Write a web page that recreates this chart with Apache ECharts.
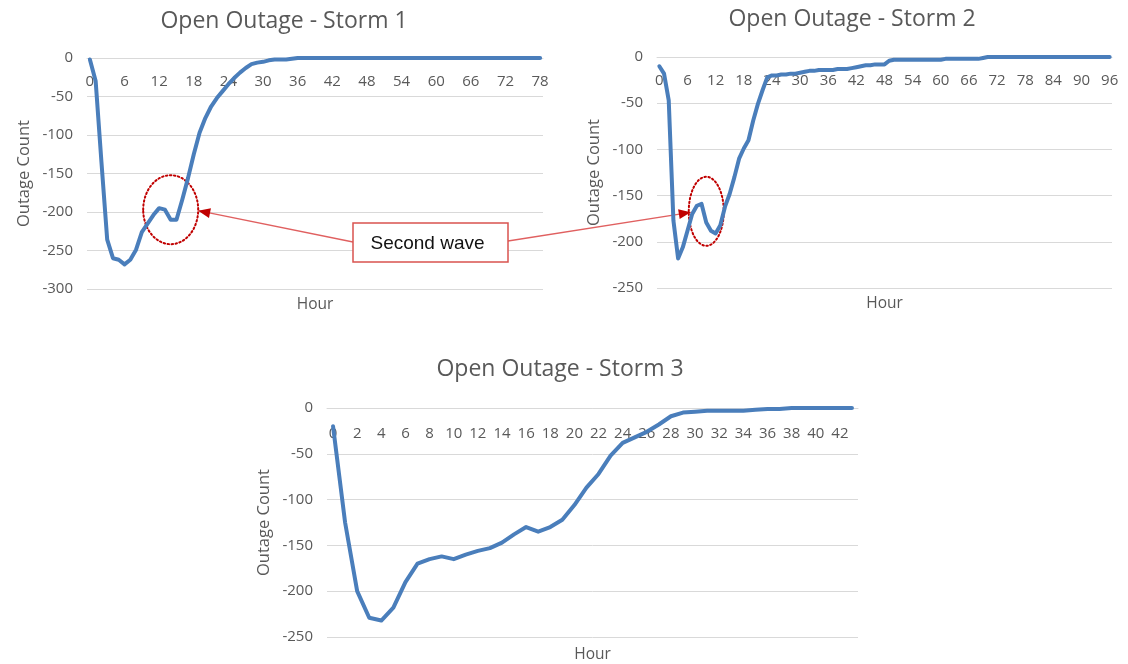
<!DOCTYPE html>
<html>
<head>
<meta charset="utf-8">
<script src="https://cdn.jsdelivr.net/npm/echarts@6/dist/echarts.min.js"></script>
<style>
  html, body { margin: 0; padding: 0; background: #fff; }
  #main { width: 1128px; height: 664px; }
</style>
</head>
<body>
<div id="main"></div>
<script>
// hours (categories)
var hours1 = ['0','1','2','3','4','5','6','7','8','9','10','11','12','13','14','15','16','17','18','19',
  '20','21','22','23','24','25','26','27','28','29','30','31','32','33','34','35','36','37','38','39',
  '40','41','42','43','44','45','46','47','48','49','50','51','52','53','54','55','56','57','58','59',
  '60','61','62','63','64','65','66','67','68','69','70','71','72','73','74','75','76','77','78'];
var hours2 = ['0','1','2','3','4','5','6','7','8','9','10','11','12','13','14','15','16','17','18','19',
  '20','21','22','23','24','25','26','27','28','29','30','31','32','33','34','35','36','37','38','39',
  '40','41','42','43','44','45','46','47','48','49','50','51','52','53','54','55','56','57','58','59',
  '60','61','62','63','64','65','66','67','68','69','70','71','72','73','74','75','76','77','78','79',
  '80','81','82','83','84','85','86','87','88','89','90','91','92','93','94','95','96'];
var hours3 = ['0','1','2','3','4','5','6','7','8','9','10','11','12','13','14','15','16','17','18','19',
  '20','21','22','23','24','25','26','27','28','29','30','31','32','33','34','35','36','37','38','39',
  '40','41','42','43'];

// outage counts per hour
var storm1 = [-2,-30,-135,-236,-260,-262,-268,-262,-249,-226,-215,-204,-195,-197,-210,-210,-184,-156,-125,-97,
  -78,-63,-52,-43,-34,-26,-19,-13,-8,-6,-5,-3,-2,-2,-2,-1,0,0,0,0,
  0,0,0,0,0,0,0,0,0,0,0,0,0,0,0,0,0,0,0,0,
  0,0,0,0,0,0,0,0,0,0,0,0,0,0,0,0,0,0,0];
var storm2 = [-10,-18,-47,-177,-218,-206,-188,-170,-161,-159,-179,-188,-191,-182,-162,-148,-130,-110,-99,-90,
  -69,-51,-36,-22,-20,-20,-19,-19,-18,-18,-17,-16,-15,-15,-14,-14,-14,-14,-13,-13,
  -13,-12,-11,-10,-9,-9,-8,-8,-8,-4,-3,-3,-3,-3,-3,-3,-3,-3,-3,-3,
  -3,-2,-2,-2,-2,-2,-2,-2,-2,-1,0,0,0,0,0,0,0,0,0,0,
  0,0,0,0,0,0,0,0,0,0,0,0,0,0,0,0,0];
var storm3 = [-20,-125,-200,-229,-232,-218,-190,-170,-165,-162,-165,-160,-156,-153,-147,-138,-130,-135,-130,-122,
  -106,-87,-72,-52,-38,-32,-26,-18,-9,-5,-4,-3,-3,-3,-3,-2,-1,-1,0,0,
  0,0,0,0];

var titles = ['Open Outage - Storm 1', 'Open Outage - Storm 2', 'Open Outage - Storm 3'];
var yMins = [-300, -250, -250];

var grey = '#595959';
var gridColor = '#d9d9d9';
var lineColor = '#4a7ebb';

var grids = [
  { left: 87, top: 58, width: 456, height: 231 },
  { left: 657, top: 57, width: 455, height: 231 },
  { left: 327, top: 408, width: 531, height: 231 }
];
var hourSets = [hours1, hours2, hours3];
var dataSets = [storm1, storm2, storm3];
var labelEvery = [5, 5, 1];
var labelMargin = [16, 16, 18];
var hourGap = [8, 8, 10];
var titlePos = [[279, 5], [847, 3], [555, 353]];

var xAxes = [];
var yAxes = [];
var series = [];
for (var i = 0; i < 3; i++) {
  // hour labels hang just under the zero line, like Excel does for negative values
  xAxes.push({
    type: 'category',
    gridIndex: i,
    data: hourSets[i],
    position: 'top',
    boundaryGap: true,
    axisLine: { show: true, onZero: false, lineStyle: { color: gridColor } },
    axisTick: { show: false },
    axisLabel: { inside: true, interval: labelEvery[i], color: grey, fontSize: 15, margin: labelMargin[i] }
  });
  yAxes.push({
    type: 'value',
    gridIndex: i,
    min: yMins[i],
    max: 0,
    interval: 50,
    axisLine: { show: false },
    axisTick: { show: false },
    splitLine: { lineStyle: { color: gridColor, width: 1 } },
    axisLabel: { color: grey, fontSize: 15, margin: 14 },
    name: 'Outage Count',
    nameLocation: 'middle',
    nameRotate: 90,
    nameGap: 54,
    nameTextStyle: { color: grey, fontSize: 16.5 }
  });
  series.push({
    type: 'line',
    xAxisIndex: i,
    yAxisIndex: i,
    data: dataSets[i],
    showSymbol: false,
    symbol: 'none',
    lineStyle: { color: lineColor, width: 4, cap: 'round', join: 'round' },
    animation: false
  });
}
// second x axis per grid only to carry the "Hour" name at the bottom
for (var j = 0; j < 3; j++) {
  xAxes.push({
    type: 'category',
    gridIndex: j,
    data: hourSets[j],
    position: 'bottom',
    axisLine: { show: false, onZero: false },
    axisTick: { show: false },
    axisLabel: { show: false },
    splitLine: { show: false },
    name: 'Hour',
    nameLocation: 'middle',
    nameGap: hourGap[j],
    nameTextStyle: { color: grey, fontSize: 15.5 }
  });
}

var chart = echarts.init(document.getElementById('main'));
chart.setOption({
  animation: false,
  textStyle: { fontFamily: 'Open Sans' },
  title: titles.map(function (t, k) {
    return {
      text: t,
      left: titlePos[k][0],
      top: titlePos[k][1],
      textAlign: 'center',
      textStyle: { color: grey, fontSize: 23, fontWeight: 'normal', fontFamily: 'Open Sans' }
    };
  }),
  grid: grids,
  xAxis: xAxes,
  yAxis: yAxes,
  series: series
});

// annotation: dotted circles around the second wave, arrows to a label box
var c1 = chart.convertToPixel({ seriesIndex: 0 }, [14, -197]);
var c2 = chart.convertToPixel({ seriesIndex: 1 }, [10, -167]);
var e1 = { rx: 27.5, ry: 34.5 };
var e2 = { rx: 17.5, ry: 34.5 };
var box = { x: 353, y: 223, w: 155, h: 39 };

function arrowHead(from, to) {
  var dx = to[0] - from[0], dy = to[1] - from[1];
  var len = Math.sqrt(dx * dx + dy * dy);
  var ux = dx / len, uy = dy / len;
  var L = 12, W = 5;
  var bx = to[0] - ux * L, by = to[1] - uy * L;
  return [[to[0], to[1]], [bx - uy * W, by + ux * W], [bx + uy * W, by - ux * W]];
}
var tip1 = [c1[0] + e1.rx, c1[1] + 1];
var from1 = [box.x, box.y + 19];
var tip2 = [c2[0] - e2.rx + 2, c2[1] + 1];
var from2 = [box.x + box.w, box.y + 18];

var red = '#c00000';
var softRed = '#e06060';
chart.setOption({
  graphic: [
    { type: 'ellipse', shape: { cx: c1[0], cy: c1[1], rx: e1.rx, ry: e1.ry },
      style: { fill: 'none', stroke: red, lineWidth: 2, lineDash: [1.5, 2.5], lineCap: 'round' } },
    { type: 'ellipse', shape: { cx: c2[0], cy: c2[1], rx: e2.rx, ry: e2.ry },
      style: { fill: 'none', stroke: red, lineWidth: 2, lineDash: [1.5, 2.5], lineCap: 'round' } },
    { type: 'line', shape: { x1: from1[0], y1: from1[1], x2: tip1[0], y2: tip1[1] },
      style: { stroke: softRed, lineWidth: 1.3 } },
    { type: 'polygon', shape: { points: arrowHead(from1, tip1) }, style: { fill: red } },
    { type: 'line', shape: { x1: from2[0], y1: from2[1], x2: tip2[0], y2: tip2[1] },
      style: { stroke: softRed, lineWidth: 1.3 } },
    { type: 'polygon', shape: { points: arrowHead(from2, tip2) }, style: { fill: red } },
    { type: 'rect', shape: { x: box.x, y: box.y, width: box.w, height: box.h },
      style: { fill: '#fff', stroke: '#d9534f', lineWidth: 1.5 } },
    { type: 'text', x: box.x + box.w / 2 - 3, y: box.y + box.h / 2 + 1,
      style: { text: 'Second wave', fill: '#111', font: '19px "Liberation Sans", Arial, sans-serif',
        align: 'center', verticalAlign: 'middle' } }
  ]
});
</script>
</body>
</html>
